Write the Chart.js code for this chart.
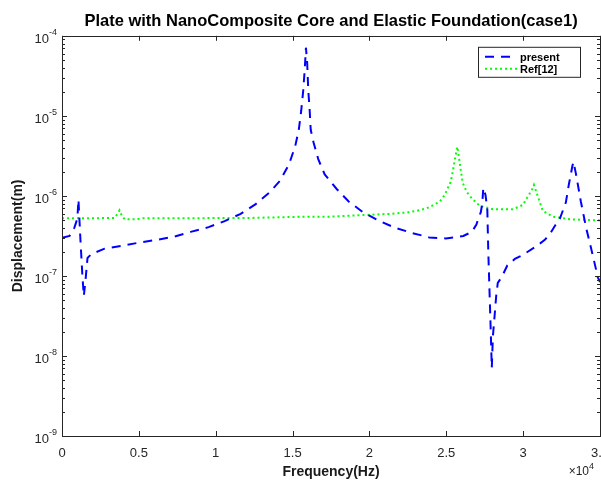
<!DOCTYPE html>
<html><head><meta charset="utf-8">
<script src="https://cdn.jsdelivr.net/npm/chart.js@4/dist/chart.umd.min.js"></script>
<style>
html,body{margin:0;padding:0;background:#fff;}
#wrap{width:601px;height:481px;overflow:hidden;position:relative;background:#fff;}
canvas{display:block;}
</style></head><body>
<div id="wrap"><canvas id="c" width="640" height="481" style="width:640px;height:481px"></canvas></div>
<script>
const chartTitle = 'Plate with NanoComposite Core and Elastic Foundation(case1)';
const xTitle = 'Frequency(Hz)';
const yTitle = 'Displacement(m)';
const seriesNames = ['present', 'Ref[12]'];

const presentFreq = [0,490,800,1000,1070,1200,1330,1420,1530,1660,1920,2770,3870,4980,6150,7320,8370,9540,10580,11620,12600,13510,14190,14780,15170,15400,15560,15690,15790,15870,15950,16020,16110,16180,16370,16670,17090,17870,18650,19560,20570,21610,22720,23890,24970,26110,26660,26950,27250,27340,27410,27550,27670,27730,27830,27900,27960,28030,28120,28250,28350,28610,28970,29460,29980,30890,31410,31770,32060,32390,32780,32980,33200,33270,33430,33760,34110,34340,34600,34860,35000];
const presentDisp = [2.99e-7,3.16e-7,3.98e-7,5.2e-7,9.0e-7,2.8e-7,9.8e-8,5.6e-8,8.9e-8,1.68e-7,1.88e-7,2.19e-7,2.37e-7,2.60e-7,2.82e-7,3.10e-7,3.55e-7,4.07e-7,4.84e-7,5.96e-7,7.9e-7,1.11e-6,1.55e-6,2.51e-6,4.17e-6,6.6e-6,1.15e-5,2.04e-5,3.76e-5,7.1e-5,4.6e-5,2.11e-5,1.19e-5,6.7e-6,4.6e-6,2.88e-6,1.85e-6,1.22e-6,8.5e-7,6.3e-7,4.94e-7,4.04e-7,3.46e-7,3.03e-7,2.94e-7,3.16e-7,3.55e-7,4.35e-7,6.3e-7,8.1e-7,1.26e-6,1.03e-6,6.7e-7,2.1e-7,5.0e-8,1.83e-8,7.1e-9,1.74e-8,2.8e-8,5.7e-8,8.2e-8,9.7e-8,1.35e-7,1.63e-7,1.83e-7,2.37e-7,2.82e-7,3.4e-7,4.2e-7,5.2e-7,8.3e-7,1.41e-6,2.34e-6,2.66e-6,1.91e-6,8.4e-7,3.9e-7,2.57e-7,1.58e-7,9.6e-8,8.4e-8];

const refFreq = [0,2440,3420,3610,3740,3870,4070,4720,5240,8950,12210,15920,17420,19560,21320,22430,23080,23730,24120,24580,24900,25100,25290,25420,25550,25720,25810,25910,26070,26330,26660,27180,28030,29330,29980,30300,30570,30700,30960,31280,31930,33040,35000];
const refDisp = [5.27e-7,5.27e-7,5.3e-7,5.96e-7,6.6e-7,5.8e-7,5.1e-7,5.1e-7,5.24e-7,5.27e-7,5.3e-7,5.5e-7,5.5e-7,5.75e-7,5.96e-7,6.2e-7,6.5e-7,7.0e-7,7.6e-7,8.5e-7,1.03e-6,1.25e-6,1.5e-6,2.0e-6,2.8e-6,4.1e-6,3.16e-6,2.3e-6,1.45e-6,1.12e-6,9.3e-7,7.5e-7,6.8e-7,6.8e-7,7.7e-7,9.8e-7,1.19e-6,1.37e-6,9.8e-7,6.5e-7,5.5e-7,5.1e-7,4.94e-7];

const xTickValues = [0,5000,10000,15000,20000,25000,30000,35000];
const xTickLabels = ['0','0.5','1','1.5','2','2.5','3','3.5'];
const yDecadeValues = [1e-9,1e-8,1e-7,1e-6,1e-5,1e-4];
const yTickBase = '10';
const yTickExponents = ['-9','-8','-7','-6','-5','-4'];
const xExponentText = ['\u00D710', '4'];

const TICK_COLOR = '#262626';
const FONT = '"Liberation Sans", Arial, sans-serif';

function yMinorValues(){
  const out = [];
  for (let d = 0; d < yDecadeValues.length; d++){
    const base = yDecadeValues[d];
    out.push({value: base, major: true});
    if (d < yDecadeValues.length - 1){
      for (let k = 2; k <= 9; k++) out.push({value: k*base, major: false});
    }
  }
  return out;
}

const framePlugin = {
  id: 'frame',
  afterDatasetsDraw(chart){
    const {ctx, chartArea: a, scales} = chart;
    ctx.save();
    ctx.strokeStyle = TICK_COLOR;
    ctx.lineWidth = 1;
    ctx.beginPath();
    scales.x.ticks.forEach(t => {
      const px = Math.round(scales.x.getPixelForValue(t.value)) + 0.5;
      ctx.moveTo(px, a.bottom); ctx.lineTo(px, a.bottom - 5);
      ctx.moveTo(px, a.top); ctx.lineTo(px, a.top + 5);
    });
    scales.y.ticks.forEach(t => {
      const py = Math.round(scales.y.getPixelForValue(t.value)) + 0.5;
      const len = t.major ? 5 : 3;
      ctx.moveTo(a.left, py); ctx.lineTo(a.left + len, py);
      ctx.moveTo(a.right, py); ctx.lineTo(a.right - len, py);
    });
    ctx.stroke();
    ctx.strokeRect(Math.round(a.left)+0.5, Math.round(a.top)+0.5, Math.round(a.right - a.left), Math.round(a.bottom - a.top));
    ctx.restore();
  },
  afterDraw(chart){
    const {ctx, chartArea: a, scales} = chart;
    ctx.save();
    ctx.fillStyle = TICK_COLOR;
    ctx.textBaseline = 'alphabetic';
    ctx.textAlign = 'left';
    yDecadeValues.forEach((v, i) => {
      const py = scales.y.getPixelForValue(v);
      const rx = a.left - 5;
      ctx.font = '9px ' + FONT;
      const we = ctx.measureText(yTickExponents[i]).width;
      ctx.fillText(yTickExponents[i], rx - we, py - 1);
      ctx.font = '13px ' + FONT;
      const wb = ctx.measureText(yTickBase).width;
      ctx.fillText(yTickBase, rx - we - wb, py + 7);
    });
    ctx.font = '9px ' + FONT;
    const w2 = ctx.measureText(xExponentText[1]).width;
    const xr = a.right - 6;
    ctx.font = '12px ' + FONT;
    const w1b = ctx.measureText(xExponentText[0]).width;
    ctx.fillText(xExponentText[0], xr - w1b - w2, a.bottom + 39);
    ctx.font = '9px ' + FONT;
    ctx.fillText(xExponentText[1], xr - w2, a.bottom + 33);

    const bx = a.right - 122, by = a.top + 11, bw = 102, bh = 30;
    ctx.fillStyle = '#fff';
    ctx.fillRect(bx, by, bw, bh);
    ctx.strokeStyle = '#262626';
    ctx.lineWidth = 1;
    ctx.strokeRect(bx + 0.5, by + 0.5, bw, bh);
    chart.data.datasets.forEach((ds, i) => {
      const ly = by + 10 + i * 12;
      ctx.save();
      ctx.strokeStyle = ds.borderColor;
      ctx.lineWidth = ds.borderWidth;
      ctx.setLineDash(ds.borderDash || []);
      ctx.beginPath();
      ctx.moveTo(bx + 7, ly); ctx.lineTo(bx + 39, ly);
      ctx.stroke();
      ctx.restore();
      ctx.fillStyle = '#000';
      ctx.font = 'bold 11px ' + FONT;
      ctx.textBaseline = 'middle';
      ctx.fillText(ds.label, bx + 42, ly + 1);
    });
    ctx.restore();
  }
};

new Chart(document.getElementById('c'), {
  type: 'line',
  data: {
    datasets: [
      {
        label: seriesNames[0],
        data: presentFreq.map((f, i) => ({x: f, y: presentDisp[i]})),
        borderColor: '#0000FF', borderWidth: 2, borderDash: [9, 7],
        pointRadius: 0, tension: 0, fill: false
      },
      {
        label: seriesNames[1],
        data: refFreq.map((f, i) => ({x: f, y: refDisp[i]})),
        borderColor: '#00FF00', borderWidth: 2, borderDash: [2, 3],
        pointRadius: 0, tension: 0, fill: false
      }
    ]
  },
  options: {
    responsive: false,
    animation: false,
    devicePixelRatio: 1,
    layout: {padding: {left: 0, right: 40, top: 0, bottom: 0}},
    plugins: {
      legend: {display: false},
      tooltip: {enabled: false},
      title: {
        display: true, text: chartTitle, fullSize: false,
        color: '#000',
        font: {family: FONT, size: 16.5, weight: 'bold'},
        padding: {top: 12, bottom: 4}
      }
    },
    scales: {
      x: {
        type: 'linear', min: 0, max: 35000,
        afterBuildTicks: s => { s.ticks = xTickValues.map(v => ({value: v})); },
        afterFit: s => { s.height = 45; },
        grid: {display: false, drawTicks: false},
        border: {display: false},
        ticks: {
          autoSkip: false, maxRotation: 0, padding: 10, color: TICK_COLOR,
          font: {family: FONT, size: 13},
          callback: (v) => { const i = xTickValues.indexOf(v); return i >= 0 ? xTickLabels[i] : ''; }
        },
        title: {
          display: true, text: xTitle, color: '#1a1a1a',
          font: {family: FONT, size: 14, weight: 'bold'},
          padding: {top: 0, bottom: 0}
        }
      },
      y: {
        type: 'logarithmic', min: 1e-9, max: 1e-4,
        afterBuildTicks: s => { s.ticks = yMinorValues(); },
        afterFit: s => { s.width = 62; },
        grid: {display: false, drawTicks: false},
        border: {display: false},
        ticks: {display: false},
        title: {
          display: true, text: yTitle, color: '#1a1a1a',
          font: {family: FONT, size: 14, weight: 'bold'},
          padding: {top: 10, bottom: 0}
        }
      }
    }
  },
  plugins: [framePlugin]
});
</script>
</body></html>
